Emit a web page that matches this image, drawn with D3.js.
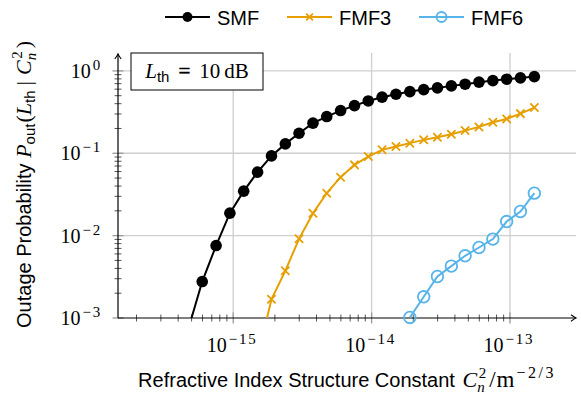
<!DOCTYPE html>
<html>
<head>
<meta charset="utf-8">
<script src="https://cdn.jsdelivr.net/npm/d3@7"></script>
<style>
body { margin: 0; background: #fff }
svg { display: block }
</style>
</head>
<body>
<svg id="chart" width="581" height="394"></svg>
<script>
'use strict'

// refractive index structure constant, one value per simulated point
const cn2 = [4.74e-16, 5.97e-16, 7.52e-16, 9.46e-16, 1.19e-15, 1.50e-15, 1.89e-15, 2.38e-15, 2.99e-15, 3.77e-15,
    4.74e-15, 5.97e-15, 7.52e-15, 9.46e-15, 1.19e-14, 1.50e-14, 1.89e-14, 2.38e-14, 2.99e-14, 3.77e-14,
    4.74e-14, 5.97e-14, 7.52e-14, 9.46e-14, 1.19e-13, 1.50e-13]

const smf = [7.4e-4, 0.00277, 0.00758, 0.01875, 0.0347, 0.059, 0.0929, 0.130, 0.175, 0.232,
    0.279, 0.330, 0.379, 0.432, 0.480, 0.521, 0.561, 0.593, 0.622, 0.658,
    0.690, 0.730, 0.763, 0.793, 0.822, 0.853]

const fmf3 = [null, null, null, null, null, 3.3e-4, 0.00169, 0.00374, 0.00915, 0.01875,
    0.0328, 0.0513, 0.0723, 0.0912, 0.110, 0.1206, 0.1327, 0.1455, 0.1568, 0.1706,
    0.1885, 0.209, 0.238, 0.261, 0.303, 0.359]

const fmf6 = [null, null, null, null, null, null, null, null, null, null,
    null, null, null, null, null, null, 0.001015, 0.00181, 0.00319, 0.00427,
    0.00569, 0.00718, 0.00908, 0.01483, 0.01963, 0.0328]

const xTicks = [1e-15, 1e-14, 1e-13]
const xTickExp = ['\u221215', '\u221214', '\u221213']
const yTicks = [1, 1e-1, 1e-2, 1e-3]
const yTickExp = ['0', '\u22121', '\u22122', '\u22123']

const series = [
    { name: 'SMF', values: smf, color: '#000000', mark: 'dot' },
    { name: 'FMF3', values: fmf3, color: '#E69F00', mark: 'x' },
    { name: 'FMF6', values: fmf6, color: '#56B4E9', mark: 'o' }
]

const sans = '"Liberation Sans", Arial, Helvetica, sans-serif'
const serif = '"Liberation Serif", "Times New Roman", serif'

let svg = d3.select('#chart')
let margin = { top: 55, right: 5, bottom: 76, left: 118 }
let width = 581 - margin.left - margin.right
let height = 394 - margin.top - margin.bottom

let x = d3.scaleLog().domain([1.47e-16, 3.0e-13]).range([0, width])
let y = d3.scaleLog().domain([1e-3, 1.56]).range([height, 0])

let g = svg.append('g').attr('transform', `translate(${margin.left}, ${margin.top})`)

// minor ticks, 2..9 in every decade
let xMinor = []
for (let e = -16; e <= -14; e++) for (let k = 2; k <= 9; k++) xMinor.push(k * Math.pow(10, e))
xMinor = xMinor.filter(v => v >= x.domain()[0] && v < 1e-13)
let yMinor = []
for (let e = -3; e <= -1; e++) for (let k = 2; k <= 9; k++) yMinor.push(k * Math.pow(10, e))

// grid
g.append('g').selectAll('line').data(xTicks).enter().append('line')
    .attr('x1', d => x(d)).attr('x2', d => x(d)).attr('y1', -2).attr('y2', height)
    .attr('stroke', '#cfcfcf').attr('stroke-width', 1.3)
g.append('g').selectAll('line').data(yTicks.filter(d => d > 1e-3)).enter().append('line')
    .attr('x1', 0).attr('x2', width).attr('y1', d => y(d)).attr('y2', d => y(d))
    .attr('stroke', '#cfcfcf').attr('stroke-width', 1.3)

// ticks
g.append('g').selectAll('line').data(xMinor).enter().append('line')
    .attr('x1', d => x(d)).attr('x2', d => x(d)).attr('y1', height - 3.5).attr('y2', height + 3.5)
    .attr('stroke', '#444').attr('stroke-width', 0.9)
g.append('g').selectAll('line').data(yMinor).enter().append('line')
    .attr('x1', -3.5).attr('x2', 3.5).attr('y1', d => y(d)).attr('y2', d => y(d))
    .attr('stroke', '#444').attr('stroke-width', 0.9)
g.append('g').selectAll('line').data(xTicks).enter().append('line')
    .attr('x1', d => x(d)).attr('x2', d => x(d)).attr('y1', height - 5.5).attr('y2', height + 5.5)
    .attr('stroke', '#9a9a9a').attr('stroke-width', 1.3)
g.append('g').selectAll('line').data(yTicks).enter().append('line')
    .attr('x1', -5.5).attr('x2', 5.5).attr('y1', d => y(d)).attr('y2', d => y(d))
    .attr('stroke', '#9a9a9a').attr('stroke-width', 1.3)

// axis lines with arrow tips
let arrow = 'M-5,-3.2 Q-1.5,-0.6 0,0 Q-1.5,0.6 -5,3.2'
g.append('line').attr('x1', 0).attr('x2', width).attr('y1', height).attr('y2', height)
    .attr('stroke', '#000').attr('stroke-width', 1.2)
g.append('path').attr('d', arrow).attr('transform', `translate(${width}, ${height})`)
    .attr('fill', 'none').attr('stroke', '#000').attr('stroke-width', 1.1)
g.append('line').attr('x1', 0).attr('x2', 0).attr('y1', height).attr('y2', -1)
    .attr('stroke', '#000').attr('stroke-width', 1.2)
g.append('path').attr('d', arrow).attr('transform', 'translate(0, -1) rotate(-90)')
    .attr('fill', 'none').attr('stroke', '#000').attr('stroke-width', 1.1)

// tick labels
let xl = g.append('g').selectAll('text').data(xTicks).enter().append('text')
    .attr('x', d => x(d) - 1).attr('y', height + 34).attr('text-anchor', 'middle')
    .attr('font-family', serif).attr('font-size', 20).attr('fill', '#000')
xl.append('tspan').text('10')
xl.append('tspan').attr('dx', 2).attr('dy', -8).attr('font-size', 15).attr('letter-spacing', 1.8).text((d, i) => xTickExp[i])

let yl = g.append('g').selectAll('text').data(yTicks).enter().append('text')
    .attr('x', -16).attr('y', d => y(d) + 7).attr('text-anchor', 'end')
    .attr('font-family', serif).attr('font-size', 20).attr('fill', '#000')
yl.append('tspan').text('10')
yl.append('tspan').attr('dx', 2).attr('dy', -8).attr('font-size', 15).attr('letter-spacing', 1.8).text((d, i) => yTickExp[i])

// data
g.append('defs').append('clipPath').attr('id', 'plot-clip')
    .append('rect').attr('x', 0).attr('y', 0).attr('width', width).attr('height', height)

let line = d3.line()
    .defined(d => d.v !== null)
    .x(d => x(d.c))
    .y(d => y(d.v))

function drawMark(sel, mark, color, r) {
    if (mark === 'dot') {
        sel.append('circle').attr('r', r).attr('fill', color)
    } else if (mark === 'o') {
        sel.append('circle').attr('r', r).attr('fill', 'none').attr('stroke', color).attr('stroke-width', 1.8)
    } else {
        let s = r * 0.75
        sel.append('path').attr('d', `M${-s},${-s}L${s},${s}M${-s},${s}L${s},${-s}`)
            .attr('stroke', color).attr('stroke-width', 1.8)
    }
}

series.forEach(s => {
    let pts = cn2.map((c, i) => ({ c: c, v: s.values[i] }))
    g.append('path').datum(pts)
        .attr('d', line)
        .attr('clip-path', 'url(#plot-clip)')
        .attr('fill', 'none').attr('stroke', s.color).attr('stroke-width', 2)
    g.append('g').selectAll('g').data(pts.filter(d => d.v !== null && d.v >= 9.5e-4)).enter().append('g')
        .attr('transform', d => `translate(${x(d.c)}, ${y(d.v)})`)
        .each(function () { drawMark(d3.select(this), s.mark, s.color, s.mark === 'x' ? 5.5 : 5.8) })
})

// annotation box
let box = g.append('g').attr('transform', 'translate(13, -2)')
box.append('rect').attr('width', 132).attr('height', 37).attr('fill', '#fff').attr('stroke', '#000').attr('stroke-width', 1)
let bt = box.append('text').attr('x', 66).attr('y', 25).attr('text-anchor', 'middle')
    .attr('font-family', serif).attr('font-size', 21).attr('fill', '#000')
bt.append('tspan').attr('font-style', 'italic').text('L')
bt.append('tspan').attr('font-family', sans).attr('font-size', 15).attr('dy', 4).text('th')
bt.append('tspan').attr('dx', 9).attr('dy', -4.4).attr('stroke', '#000').attr('stroke-width', 0.5).text('=')
bt.append('tspan').attr('dx', 9).attr('dy', 0.4).text('10')
bt.append('tspan').attr('dx', 4).text('dB')

// legend
let legend = svg.append('g').selectAll('g').data(series).enter().append('g')
    .attr('transform', (d, i) => `translate(${[165, 287, 419][i]}, 17)`)
legend.append('line').attr('x1', 0).attr('x2', 45).attr('stroke', d => d.color).attr('stroke-width', 2)
legend.each(function (d) {
    let m = d3.select(this).append('g').attr('transform', 'translate(22.5, 0)')
    drawMark(m, d.mark, d.color, d.mark === 'x' ? 4.5 : 5)
})
legend.append('text').attr('x', 52).attr('y', 7.5)
    .attr('font-family', sans).attr('font-size', 20).attr('fill', '#000')
    .text(d => d.name)

// axis titles
let xt = svg.append('text').attr('x', margin.left + width / 2).attr('y', 387).attr('text-anchor', 'middle')
    .attr('font-family', sans).attr('font-size', 20).attr('fill', '#000')
xt.append('tspan').text('Refractive Index Structure Constant ')
xt.append('tspan').attr('font-family', serif).attr('font-style', 'italic').attr('font-size', 22).attr('dx', 2).text('C')
xt.append('tspan').attr('font-family', serif).attr('font-style', 'italic').attr('font-size', 15).attr('dy', 5).text('n')
xt.append('tspan').attr('font-family', serif).attr('font-size', 15).attr('dx', -6).attr('dy', -14).text('2')
xt.append('tspan').attr('font-family', serif).attr('font-size', 23).attr('dx', 3).attr('dy', 9).attr('letter-spacing', 1).text('/m')
xt.append('tspan').attr('font-family', serif).attr('font-size', 16).attr('letter-spacing', 2.5).attr('dx', 1).attr('dy', -9).text('\u22122/3')

let yt = svg.append('text').attr('transform', `translate(31, ${margin.top + height / 2 - 2}) rotate(-90)`)
    .attr('text-anchor', 'middle')
    .attr('font-family', sans).attr('font-size', 20).attr('fill', '#000')
yt.append('tspan').text('Outage Probability ')
yt.append('tspan').attr('font-family', serif).attr('font-style', 'italic').attr('font-size', 22).text('P')
yt.append('tspan').attr('font-size', 15).attr('dy', 4).text('out')
yt.append('tspan').attr('font-family', serif).attr('font-size', 22).attr('dx', 1).attr('dy', -4).text('(')
yt.append('tspan').attr('font-family', serif).attr('font-style', 'italic').attr('font-size', 22).text('L')
yt.append('tspan').attr('font-size', 15).attr('dy', 4).text('th')
yt.append('tspan').attr('font-family', serif).attr('font-size', 22).attr('dx', 5).attr('dy', -4).text('|')
yt.append('tspan').attr('font-family', serif).attr('font-style', 'italic').attr('font-size', 22).attr('dx', 6).text('C')
yt.append('tspan').attr('font-family', serif).attr('font-style', 'italic').attr('font-size', 15).attr('dy', 5).text('n')
yt.append('tspan').attr('font-family', serif).attr('font-size', 15).attr('dx', -6).attr('dy', -14).text('2')
yt.append('tspan').attr('font-family', serif).attr('font-size', 22).attr('dx', 3).attr('dy', 9).text(')')
</script>
</body>
</html>
